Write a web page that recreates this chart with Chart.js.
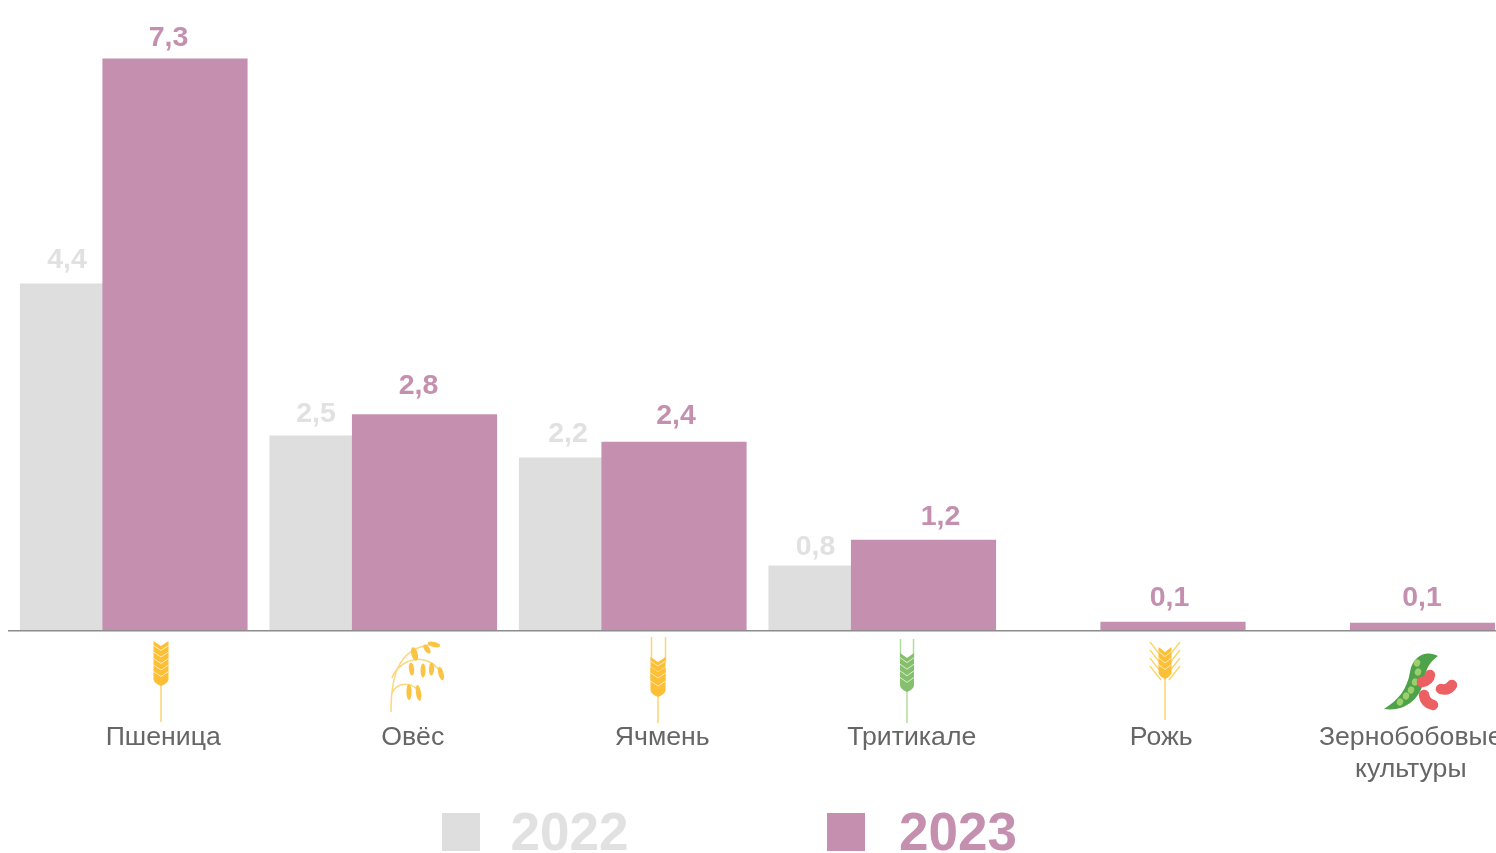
<!DOCTYPE html>
<html><head><meta charset="utf-8">
<style>html,body{margin:0;padding:0;background:#fff;overflow:hidden;width:1496px;height:853px}canvas{display:block}</style>
<script src="https://cdn.jsdelivr.net/npm/chart.js@4"></script>
</head><body><canvas id="c" width="1510" height="853" style="width:1510px;height:853px"></canvas>
<script>
const categories = ["Пшеница","Овёс","Ячмень","Тритикале","Рожь",["Зернобобовые","культуры"]];
const seriesNames = ["2022","2023"];
const values2022 = [4.43,2.49,2.21,0.83,null,null];
const values2023 = [7.3,2.76,2.41,1.16,0.115,0.1];

const GRAY='#dedede', PINK='#c590af', GRAY_TXT='#e1e1e1';
const GREY_SHIFT=-41.25, PINK_SHIFT=41.25;
// per-label nudges [dx, dy] from bar-top-centre, matching the hand placed labels of the original
const nudge2022=[[-25.5,-24],[-26,-22],[-23.5,-24],[-25.5,-19]];
const nudge2023=[[-6.5,-21],[-6,-28.5],[2,-26],[17,-23],[-3.5,-24],[-0.5,-25]];

class ShiftedCategory extends Chart.CategoryScale{
  getPixelForValue(v,i){return super.getPixelForValue(v,i)+(this.options.shiftPx||0);}
}
ShiftedCategory.id='shiftedCategory';
ShiftedCategory.defaults=Chart.CategoryScale.defaults;
Chart.register(ShiftedCategory);

function ear(ctx,x,top,bot,hw,col,n){
  ctx.fillStyle=col;ctx.beginPath();
  ctx.moveTo(x-hw,top);ctx.lineTo(x,top+5);ctx.lineTo(x+hw,top);
  ctx.lineTo(x+hw,bot-7);ctx.quadraticCurveTo(x+hw,bot-3,x,bot);ctx.quadraticCurveTo(x-hw,bot-3,x-hw,bot-7);ctx.closePath();ctx.fill();
  ctx.strokeStyle='rgba(255,255,255,.7)';ctx.lineWidth=1;
  const step=(bot-top-6)/n;
  for(let k=1;k<n;k++){const y=top+k*step;ctx.beginPath();ctx.moveTo(x-hw,y-2);ctx.lineTo(x,y+3);ctx.lineTo(x+hw,y-2);ctx.stroke();}
}
function stem(ctx,x,a,b,col,w){ctx.strokeStyle=col;ctx.lineWidth=w||1.5;ctx.beginPath();ctx.moveTo(x,a);ctx.lineTo(x,b);ctx.stroke();}
function grain(ctx,x,y,rx,ry,rot,col){ctx.fillStyle=col;ctx.beginPath();ctx.ellipse(x,y,rx,ry,rot,0,Math.PI*2);ctx.fill();}
function bean(ctx,x0,y0,cx,cy,x1,y1){ctx.strokeStyle='#ec5f63';ctx.lineWidth=10.5;ctx.lineCap='round';ctx.beginPath();ctx.moveTo(x0,y0);ctx.quadraticCurveTo(cx,cy,x1,y1);ctx.stroke();ctx.lineCap='butt';}
const icons=[
 ctx=>{stem(ctx,161,685,722,'#fdd56f');ear(ctx,161,641,686,7.5,'#fcbf35',6);},
 ctx=>{const c='#fdd67a',g='#fbc445';ctx.strokeStyle=c;ctx.lineWidth=1.5;
  ctx.beginPath();ctx.moveTo(391,712);ctx.bezierCurveTo(391,675,398,645,438,644);ctx.stroke();
  ctx.beginPath();ctx.moveTo(392,678);ctx.bezierCurveTo(398,660,428,648,443,676);ctx.stroke();
  ctx.beginPath();ctx.moveTo(392,693);ctx.bezierCurveTo(396,682,415,680,421,696);ctx.stroke();
  [[414.5,654,3.2,7,-.25],[427,649,2.6,5,-.6],[434,644.5,6.5,2.6,.25]].forEach(a=>grain(ctx,a[0],a[1],a[2],a[3],a[4],g));
  [[411.5,669,2.6,6.5,-.1],[423,670.5,2.5,7,0],[431.5,669,2.6,6.5,.05],[441,673.5,2.6,7,-.25]].forEach(a=>grain(ctx,a[0],a[1],a[2],a[3],a[4],g));
  [[409,692,2.6,8,0],[418.5,693,2.6,8,-.15]].forEach(a=>grain(ctx,a[0],a[1],a[2],a[3],a[4],g));
 },
 ctx=>{stem(ctx,658,695,723,'#fdd56f');stem(ctx,651.5,637,662,'#fdd56f');stem(ctx,665.5,637,662,'#fdd56f');ear(ctx,658,657,687,7.5,'#fcbf35',4);ear(ctx,658,667,697,7.5,'#fcbf35',3);},
 ctx=>{stem(ctx,907,690,723,'#b3dc9d');stem(ctx,900.5,639,660,'#b3dc9d');stem(ctx,913.5,639,660,'#b3dc9d');ear(ctx,907,653,692,7,'#86c06c',5);},
 ctx=>{stem(ctx,1165,675,720,'#fdd56f');ctx.strokeStyle='#fdd56f';ctx.lineWidth=1.4;
  for(let k=0;k<4;k++){const y=642+k*8;[-1,1].forEach(s=>{ctx.beginPath();ctx.moveTo(1165+s*4,y+14);ctx.lineTo(1165+s*15,y);ctx.stroke();});}
  ear(ctx,1165,647,679,6.5,'#fcbf35',4);},
 ctx=>{ctx.fillStyle='#4ea24a';ctx.beginPath();ctx.moveTo(1438,656);ctx.bezierCurveTo(1428,650,1413,654,1410,672);ctx.bezierCurveTo(1407,690,1398,700,1384,709);ctx.bezierCurveTo(1404,712,1420,700,1424,680);ctx.bezierCurveTo(1426,668,1430,662,1438,656);ctx.closePath();ctx.fill();
  [[1417,663],[1418,672],[1415,682],[1411,690],[1406,696],[1400,702]].forEach(p=>grain(ctx,p[0],p[1],3.2,3.6,.3,'#9ccf6c'));
  bean(ctx,1430,675,1429,681,1422,682);bean(ctx,1452,685,1448,691,1441,689);bean(ctx,1424,695,1425,703,1433,705);}
];

const drawExtras={
  id:'drawExtras',
  afterDatasetsDraw(chart){
    const ctx=chart.ctx;ctx.save();
    // value labels
    ctx.textAlign='center';ctx.textBaseline='middle';ctx.font='bold 28.5px "Liberation Sans"';
    [[0,nudge2022,GRAY_TXT],[1,nudge2023,PINK]].forEach(([d,nud,col])=>{
      const meta=chart.getDatasetMeta(d),vals=chart.data.datasets[d].data;
      ctx.fillStyle=col;
      meta.data.forEach((el,i)=>{
        if(vals[i]==null)return;
        const n=nud[i];
        ctx.fillText(vals[i].toFixed(1).replace('.',','),el.x+n[0],el.y+n[1]);
      });
    });
    icons.forEach(f=>{ctx.save();f(ctx);ctx.restore();});
    // legend
    ctx.textAlign='left';ctx.font='bold 53px "Liberation Sans"';
    [[442,510.5,GRAY,GRAY_TXT],[827,899,PINK,PINK]].forEach((l,i)=>{
      ctx.fillStyle=l[2];ctx.fillRect(l[0],813,38,38);
      ctx.fillStyle=l[3];ctx.fillText(seriesNames[i],l[1],835.5);
    });
    ctx.restore();
  }
};

new Chart(document.getElementById('c'),{
  type:'bar',
  data:{labels:categories,datasets:[
    {label:seriesNames[0],data:values2022,backgroundColor:GRAY,xAxisID:'xGray',barThickness:144.5,order:2,grouped:false},
    {label:seriesNames[1],data:values2023,backgroundColor:PINK,xAxisID:'xPink',barThickness:144.5,order:1,grouped:false}
  ]},
  plugins:[drawExtras],
  options:{
    responsive:false,animation:false,
    layout:{padding:{left:9,right:4,top:4,bottom:0}},
    plugins:{legend:{display:false},tooltip:{enabled:false}},
    scales:{
      x:{type:'category',labels:categories,offset:true,z:1,
        grid:{display:false,drawTicks:false},
        border:{display:true,color:'#8c8c8c',width:1.5,z:1},
        afterFit(s){s.height=222;s.paddingLeft=0;s.paddingRight=0;},
        ticks:{autoSkip:false,maxRotation:0,minRotation:0,padding:91,labelOffset:29.5,color:'#666666',font:{family:'"Liberation Sans"',size:26.67}}},
      xGray:{type:'shiftedCategory',shiftPx:GREY_SHIFT,labels:categories,offset:true,display:false,grid:{display:false}},
      xPink:{type:'shiftedCategory',shiftPx:PINK_SHIFT,labels:categories,offset:true,display:false,grid:{display:false}},
      y:{min:0,max:8,display:false,grid:{display:false}}
    }
  }
});
</script></body></html>
